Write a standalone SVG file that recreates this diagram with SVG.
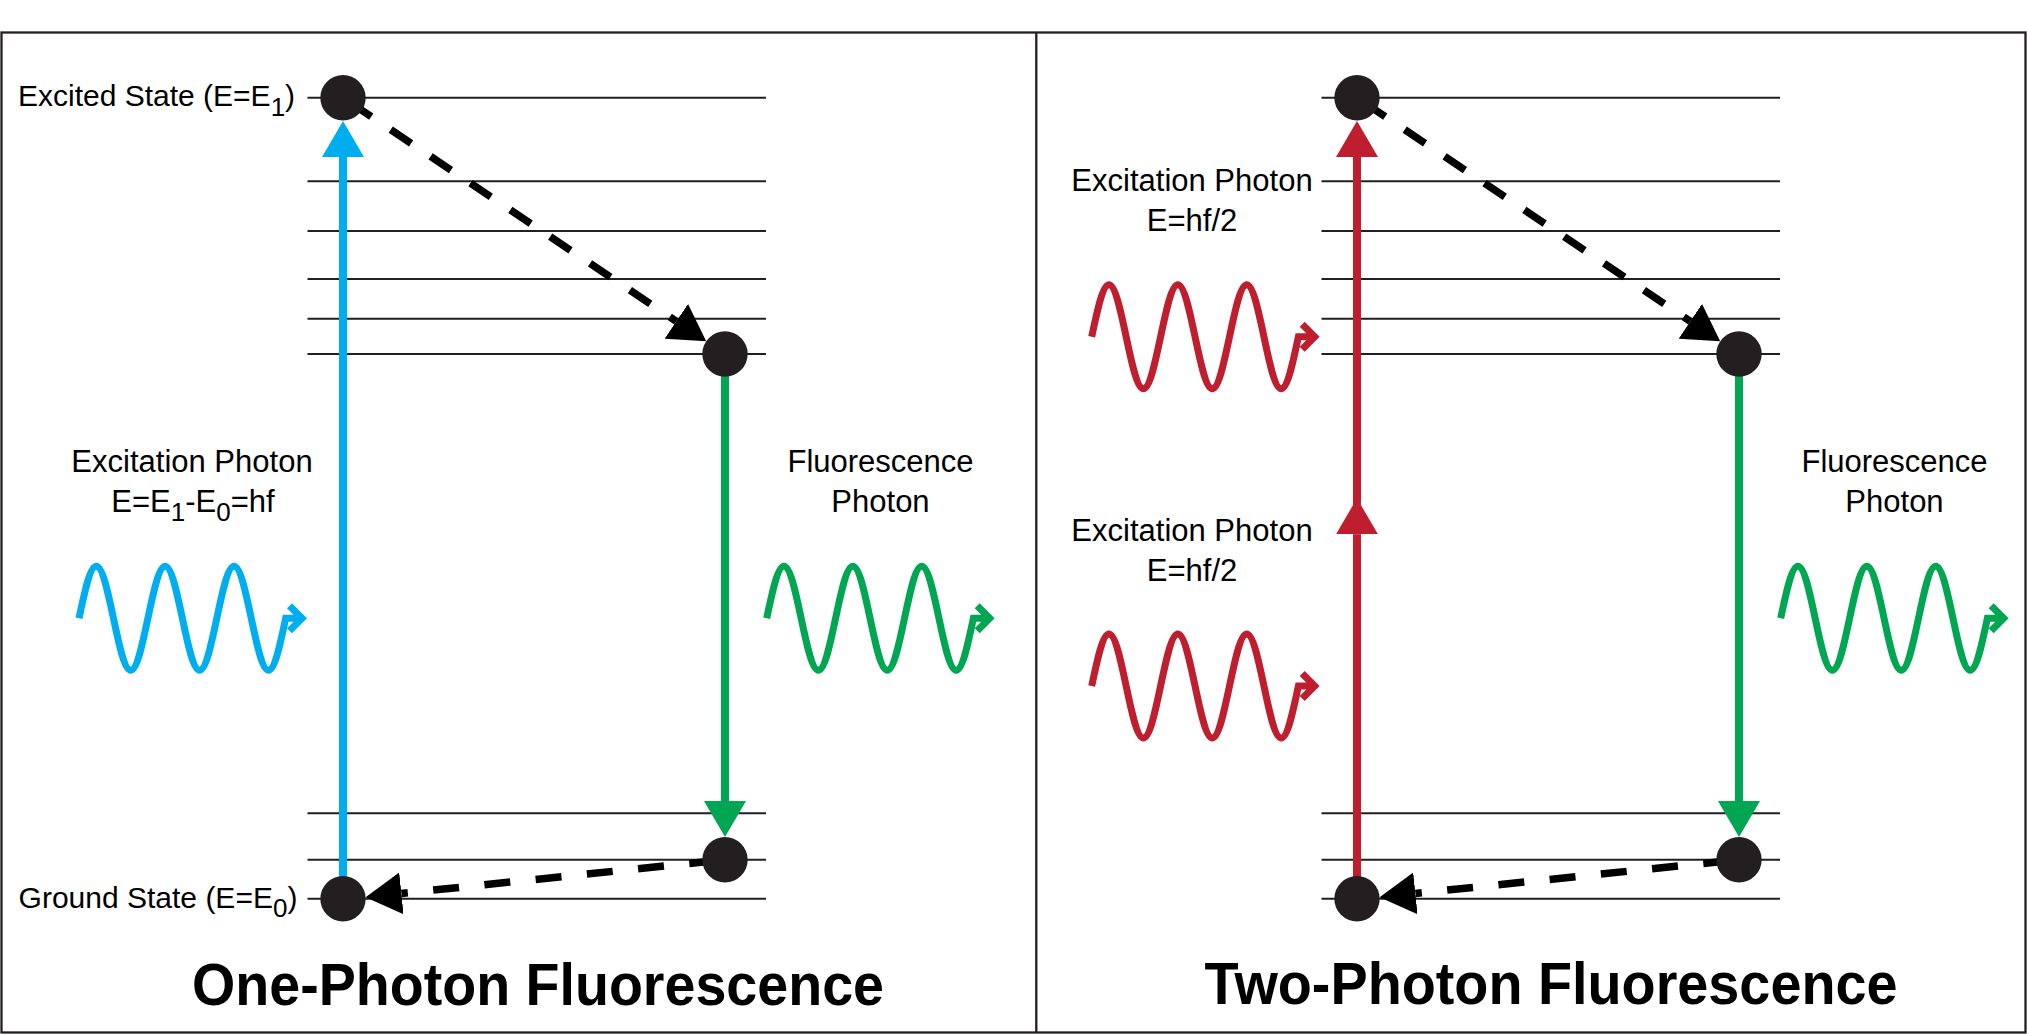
<svg xmlns="http://www.w3.org/2000/svg" xmlns:xlink="http://www.w3.org/1999/xlink" width="2027" height="1034" viewBox="0 0 2027 1034">
  <style>
    .frame { fill: none; stroke: #231f20; stroke-width: 2.3; }
    .level { stroke: #231f20; stroke-width: 2; fill: none; }
    .dot { fill: #231f20; }
    .lbl { font-family: "Liberation Sans", Arial, sans-serif; font-size: 31px; fill: #000; }
    .state { font-family: "Liberation Sans", Arial, sans-serif; font-size: 30px; fill: #000; }
    .title { font-family: "Liberation Sans", Arial, sans-serif; font-size: 59px; font-weight: bold; fill: #000; }
    .wave { fill: none; stroke-width: 7; stroke-linejoin: miter; stroke-miterlimit: 10; }
    .blue { stroke: #00aeef; }
    .green { stroke: #00a651; }
    .red { stroke: #be1e2d; }
    .trans { fill: none; stroke-width: 8; }
    .dash1 { fill: none; stroke: #000; stroke-width: 7.5; stroke-dasharray: 24.5 23.5; stroke-dashoffset: 38.5; }
    .dash2 { fill: none; stroke: #000; stroke-width: 7.5; stroke-dasharray: 26 25.5; stroke-dashoffset: 41.6; }
  </style>
  <defs>
    <marker id="ahBlue" markerUnits="userSpaceOnUse" markerWidth="36" markerHeight="42" viewBox="0 0 36 42" refX="0" refY="21" orient="auto">
      <path d="M0,0 L36,21 L0,42 Z" fill="#00aeef"/>
    </marker>
    <marker id="ahGreen" markerUnits="userSpaceOnUse" markerWidth="36" markerHeight="42" viewBox="0 0 36 42" refX="0" refY="21" orient="auto">
      <path d="M0,0 L36,21 L0,42 Z" fill="#00a651"/>
    </marker>
    <marker id="ahRed" markerUnits="userSpaceOnUse" markerWidth="36" markerHeight="42" viewBox="0 0 36 42" refX="0" refY="21" orient="auto">
      <path d="M0,0 L36,21 L0,42 Z" fill="#be1e2d"/>
    </marker>
    <marker id="ahBlack" markerUnits="userSpaceOnUse" markerWidth="36" markerHeight="42" viewBox="0 0 36 42" refX="0" refY="21" orient="auto">
      <path d="M0,0 L36,21 L0,42 Z" fill="#000"/>
    </marker>
    <path id="wave" d="M0,0
      c5.618,-26.64 10.991,-52 17.225,-52 c6.234,0 11.607,25.36 17.225,52
      c5.618,26.64 10.991,52 17.225,52 c6.234,0 11.607,-25.36 17.225,-52
      c5.618,-26.64 10.991,-52 17.225,-52 c6.234,0 11.607,25.36 17.225,52
      c5.618,26.64 10.991,52 17.225,52 c6.234,0 11.607,-25.36 17.225,-52
      c5.618,-26.64 10.991,-52 17.225,-52 c6.234,0 11.607,25.36 17.225,52
      c5.618,26.64 10.991,52 17.225,52 c6.234,0 11.607,-25.36 17.225,-52
      h16.3 M210.5,-12.5 L223,0 L210.5,12.5"/>
  </defs>

  <rect fill="#fff" x="0" y="0" width="2027" height="1034"/>

  <g id="frame">
    <rect class="frame" x="1.5" y="32.5" width="2024" height="1000"/>
    <line class="frame" x1="1036.3" y1="32.5" x2="1036.3" y2="1032.5"/>
  </g>

  <g id="levels-left">
    <line class="level" x1="307.5" y1="97.7" x2="766" y2="97.7"/>
    <line class="level" x1="307.5" y1="181.3" x2="766" y2="181.3"/>
    <line class="level" x1="307.5" y1="231" x2="766" y2="231"/>
    <line class="level" x1="307.5" y1="279" x2="766" y2="279"/>
    <line class="level" x1="307.5" y1="318.7" x2="766" y2="318.7"/>
    <line class="level" x1="307.5" y1="354" x2="766" y2="354"/>
    <line class="level" x1="307.5" y1="813.3" x2="766" y2="813.3"/>
    <line class="level" x1="307.5" y1="859.7" x2="766" y2="859.7"/>
    <line class="level" x1="307.5" y1="898.7" x2="766" y2="898.7"/>
  </g>
  <g id="levels-right">
    <line class="level" x1="1321.5" y1="97.7" x2="1780" y2="97.7"/>
    <line class="level" x1="1321.5" y1="181.3" x2="1780" y2="181.3"/>
    <line class="level" x1="1321.5" y1="231" x2="1780" y2="231"/>
    <line class="level" x1="1321.5" y1="279" x2="1780" y2="279"/>
    <line class="level" x1="1321.5" y1="318.7" x2="1780" y2="318.7"/>
    <line class="level" x1="1321.5" y1="354" x2="1780" y2="354"/>
    <line class="level" x1="1321.5" y1="813.3" x2="1780" y2="813.3"/>
    <line class="level" x1="1321.5" y1="859.7" x2="1780" y2="859.7"/>
    <line class="level" x1="1321.5" y1="898.7" x2="1780" y2="898.7"/>
  </g>

  <g id="connectors">
    <!-- left panel -->
    <line class="trans blue" x1="343" y1="898.7" x2="343" y2="157" marker-end="url(#ahBlue)"/>
    <line class="dash1" x1="343" y1="97.7" x2="676.3" y2="321.3" marker-end="url(#ahBlack)"/>
    <line class="trans green" x1="725" y1="354" x2="725" y2="801" marker-end="url(#ahGreen)"/>
    <line class="dash2" x1="725" y1="859.7" x2="401.4" y2="893.4" marker-end="url(#ahBlack)"/>
    <!-- right panel -->
    <line class="trans red" x1="1357" y1="898.7" x2="1357" y2="534.3" marker-end="url(#ahRed)"/>
    <line class="trans red" x1="1357" y1="534.3" x2="1357" y2="157" marker-end="url(#ahRed)"/>
    <line class="dash1" x1="1357" y1="97.7" x2="1690.3" y2="321.3" marker-end="url(#ahBlack)"/>
    <line class="trans green" x1="1739" y1="354" x2="1739" y2="801" marker-end="url(#ahGreen)"/>
    <line class="dash2" x1="1739" y1="859.7" x2="1415.4" y2="893.4" marker-end="url(#ahBlack)"/>
  </g>

  <g id="node-left-excited"><circle class="dot" cx="343" cy="97.7" r="22.7"/></g>
  <g id="node-left-relaxed"><circle class="dot" cx="725" cy="354" r="22.7"/></g>
  <g id="node-left-lower"><circle class="dot" cx="725" cy="859.7" r="22.7"/></g>
  <g id="node-left-ground"><circle class="dot" cx="343" cy="898.7" r="22.7"/></g>
  <g id="node-right-excited"><circle class="dot" cx="1357" cy="97.7" r="22.7"/></g>
  <g id="node-right-relaxed"><circle class="dot" cx="1739" cy="354" r="22.7"/></g>
  <g id="node-right-lower"><circle class="dot" cx="1739" cy="859.7" r="22.7"/></g>
  <g id="node-right-ground"><circle class="dot" cx="1357" cy="898.7" r="22.7"/></g>

  <g id="photons">
    <use xlink:href="#wave" href="#wave" class="wave blue" transform="translate(79,618.2)"/>
    <use xlink:href="#wave" href="#wave" class="wave green" transform="translate(766.7,618.2)"/>
    <use xlink:href="#wave" href="#wave" class="wave green" transform="translate(1780.7,618.2)"/>
    <use xlink:href="#wave" href="#wave" class="wave red" transform="translate(1091.7,336.7)"/>
    <use xlink:href="#wave" href="#wave" class="wave red" transform="translate(1091.7,686)"/>
  </g>

  <g id="labels">
    <text class="state" x="18" y="106">Excited State (E=E<tspan font-size="26" dy="9.5">1</tspan><tspan dy="-9.5">)</tspan></text>
    <text class="state" x="18.6" y="907.7">Ground State (E=E<tspan font-size="26" dy="9.5">0</tspan><tspan dy="-9.5">)</tspan></text>

    <text class="lbl" x="192" y="471.7" text-anchor="middle">Excitation Photon</text>
    <text class="lbl" x="193" y="511.7" text-anchor="middle">E=E<tspan font-size="26" dy="9.5">1</tspan><tspan dy="-9.5">-E</tspan><tspan font-size="26" dy="9.5">0</tspan><tspan dy="-9.5">=hf</tspan></text>

    <text class="lbl" x="880.5" y="471.7" text-anchor="middle">Fluorescence</text>
    <text class="lbl" x="880.5" y="511.7" text-anchor="middle">Photon</text>

    <text class="lbl" x="1192" y="190.7" text-anchor="middle">Excitation Photon</text>
    <text class="lbl" x="1192" y="230.7" text-anchor="middle">E=hf/2</text>

    <text class="lbl" x="1192" y="540.7" text-anchor="middle">Excitation Photon</text>
    <text class="lbl" x="1192" y="580.7" text-anchor="middle">E=hf/2</text>

    <text class="lbl" x="1894.5" y="471.7" text-anchor="middle">Fluorescence</text>
    <text class="lbl" x="1894.5" y="511.7" text-anchor="middle">Photon</text>

    <text class="title" x="538" y="1005" text-anchor="middle" textLength="692" lengthAdjust="spacingAndGlyphs">One-Photon Fluorescence</text>
    <text class="title" x="1551" y="1004" text-anchor="middle" textLength="693" lengthAdjust="spacingAndGlyphs">Two-Photon Fluorescence</text>
  </g>
</svg>
